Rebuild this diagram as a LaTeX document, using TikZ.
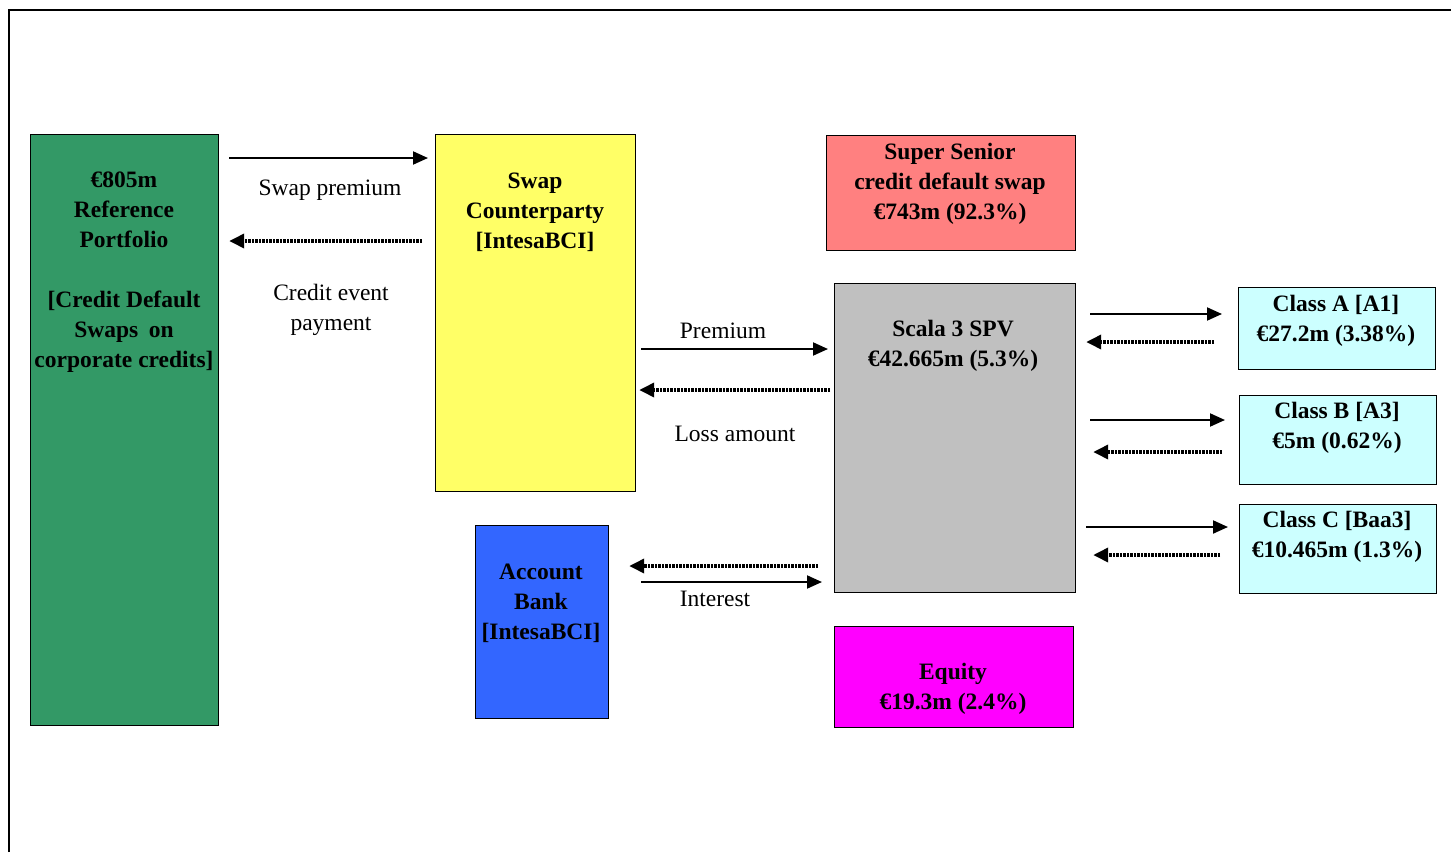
\documentclass[tikz,border=0pt]{standalone}
\usepackage{fontspec}
\setmainfont{Liberation Serif}
\usetikzlibrary{arrows.meta}
\definecolor{cgreen}{HTML}{339966}
\definecolor{cyellow}{HTML}{FFFF66}
\definecolor{cred}{HTML}{FF8080}
\definecolor{cgrey}{HTML}{C0C0C0}
\definecolor{cblue}{HTML}{3366FF}
\definecolor{cmag}{HTML}{FF00FF}
\definecolor{ccyan}{HTML}{CCFFFF}
\begin{document}
\begin{tikzpicture}[x=1pt,y=-1pt,
 box/.style={draw=black,line width=1.2pt,inner sep=0pt,anchor=north west},
 btxt/.style={align=center,font=\fontsize{23.5}{30}\selectfont\bfseries,inner sep=0pt,yshift=-2pt},
 ltxt/.style={align=center,font=\fontsize{23.5}{30}\selectfont,inner sep=0pt,yshift=-2pt},
 sol/.style={line width=2pt,-{Triangle[length=15pt,width=13pt]}},
 dotl/.style={line width=3.5pt,dash pattern=on 2.5pt off 1pt,-{Triangle[length=15pt,width=14pt]}}]
\useasboundingbox (0,0) rectangle (1451,852);
\draw[line width=2pt] (9,852) -- (9,10) -- (1451,10);
% boxes
\node[box,fill=cgreen,minimum width=188pt,minimum height=591pt] (green) at (30,134) {};
\node[box,fill=cyellow,minimum width=200pt,minimum height=357pt] (yellow) at (435,134) {};
\node[box,fill=cred,minimum width=249pt,minimum height=115pt] (senior) at (826,135) {};
\node[box,fill=cgrey,minimum width=241pt,minimum height=309pt] (spv) at (834,283) {};
\node[box,fill=cblue,minimum width=133pt,minimum height=193pt] (bank) at (475,525) {};
\node[box,fill=cmag,minimum width=239pt,minimum height=101pt] (equity) at (834,626) {};
\node[box,fill=ccyan,minimum width=197pt,minimum height=82pt] (classA) at (1238,287) {};
\node[box,fill=ccyan,minimum width=197pt,minimum height=89pt] (classB) at (1239,395) {};
\node[box,fill=ccyan,minimum width=197pt,minimum height=89pt] (classC) at (1239,504) {};
% box texts
\node[btxt] (greenT) at (124,270) {€805m\\Reference\\Portfolio\\[30pt]{[Credit Default}\\Swaps\hspace{4.5pt} on\\corporate credits]};
\node[btxt] (yellowT) at (535,210) {Swap\\Counterparty\\{[IntesaBCI]}};
\node[btxt] (seniorT) at (950,182) {Super Senior\\credit default swap\\€743m (92.3\%)};
\node[btxt] (spvT) at (953,344) {Scala 3 SPV\\€42.665m (5.3\%)};
\node[btxt] (bankT) at (541,601) {Account\\Bank\\{[IntesaBCI]}};
\node[btxt] (equityT) at (953,687) {Equity\\€19.3m (2.4\%)};
\node[btxt] (classAT) at (1336,319) {Class A [A1]\\€27.2m (3.38\%)};
\node[btxt] (classBT) at (1337,426) {Class B [A3]\\€5m (0.62\%)};
\node[btxt] (classCT) at (1337,535) {Class C [Baa3]\\€10.465m (1.3\%)};
% labels
\node[ltxt] (l1) at (330,188) {Swap premium};
\node[ltxt] (l2) at (331,308) {Credit event\\payment};
\node[ltxt] (l3) at (723,329) {Premium};
\node[ltxt] (l4) at (735,432) {Loss amount};
\node[ltxt] (l5) at (715,597) {Interest};
% connectors
\draw[sol] ([xshift=10]green.east |- 0,158) -- ([xshift=-7]yellow.west |- 0,158);
\draw[dotl] ([xshift=-13]yellow.west |- 0,241) -- ([xshift=10]green.east |- 0,241);
\draw[sol] ([xshift=5]yellow.east |- 0,349) -- ([xshift=-6]spv.west |- 0,349);
\draw[dotl] ([xshift=-4]spv.west |- 0,390) -- ([xshift=3]yellow.east |- 0,390);
\draw[dotl] ([xshift=-16]spv.west |- 0,566) -- ([xshift=20]bank.east |- 0,566);
\draw[sol] ([xshift=32]bank.east |- 0,582) -- ([xshift=-12]spv.west |- 0,582);
\draw[sol] ([xshift=14]spv.east |- 0,314) -- ([xshift=-16]classA.west |- 0,314);
\draw[dotl] ([xshift=-24]classA.west |- 0,342) -- ([xshift=10]spv.east |- 0,342);
\draw[sol] ([xshift=14]spv.east |- 0,420) -- ([xshift=-14]classB.west |- 0,420);
\draw[dotl] ([xshift=-17]classB.west |- 0,452) -- ([xshift=17]spv.east |- 0,452);
\draw[sol] ([xshift=10]spv.east |- 0,527) -- ([xshift=-11]classC.west |- 0,527);
\draw[dotl] ([xshift=-19]classC.west |- 0,555) -- ([xshift=17]spv.east |- 0,555);
\end{tikzpicture}
\end{document}
